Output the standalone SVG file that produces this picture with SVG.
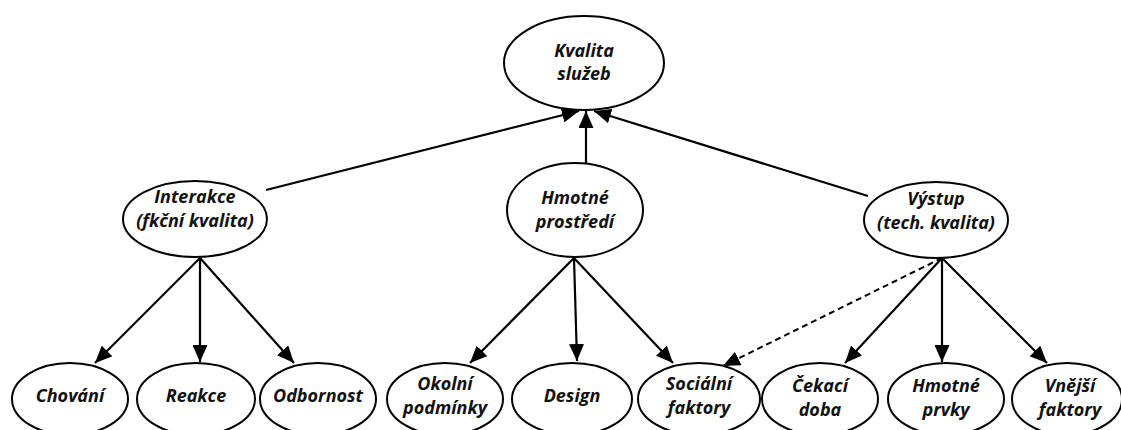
<svg xmlns="http://www.w3.org/2000/svg" width="1121" height="430" viewBox="0 0 1121 430">
  <defs>
    <marker id="arrow" markerUnits="userSpaceOnUse" markerWidth="17" markerHeight="15" refX="17" refY="7.5" orient="auto">
      <path d="M0,0 L17,7.5 L0,15 z" fill="#000"/>
    </marker>
    <style>
      .node ellipse { fill: #fff; stroke: #000; stroke-width: 2; }
      .node text { font-family: "Open Sans", "Liberation Sans", sans-serif; font-weight: bold; font-style: italic; font-size: 18px; fill: #111; text-anchor: middle; }
      .edge { stroke: #000; stroke-width: 2.2; fill: none; marker-end: url(#arrow); }
      .dashed { stroke-width: 2; stroke-dasharray: 6 4; }
    </style>
  </defs>
  <rect width="1121" height="430" fill="#fff"/>

  <g id="connectors">
    <!-- second level to root -->
    <line class="edge" x1="266" y1="190" x2="579" y2="111"/>
    <line class="edge" x1="586" y1="163" x2="586" y2="111"/>
    <line class="edge" x1="868" y1="196" x2="594" y2="111"/>
    <!-- Interakce children -->
    <line class="edge" x1="200" y1="258" x2="95" y2="363"/>
    <line class="edge" x1="200" y1="258" x2="200" y2="362"/>
    <line class="edge" x1="200" y1="258" x2="294" y2="363"/>
    <!-- Hmotné prostředí children -->
    <line class="edge" x1="574" y1="258" x2="470" y2="363"/>
    <line class="edge" x1="574" y1="258" x2="577" y2="361"/>
    <line class="edge" x1="574" y1="258" x2="673" y2="363"/>
    <!-- Výstup children -->
    <line class="edge dashed" x1="942" y1="258" x2="723" y2="366"/>
    <line class="edge" x1="942" y1="258" x2="845" y2="363"/>
    <line class="edge" x1="942" y1="258" x2="942" y2="362"/>
    <line class="edge" x1="942" y1="258" x2="1047" y2="363"/>
  </g>

  <g id="kvalita-sluzeb" class="node">
    <ellipse cx="584" cy="63" rx="80" ry="47"/>
    <text x="584" y="57">Kvalita</text>
    <text x="584" y="80">služeb</text>
  </g>

  <g id="interakce" class="node">
    <ellipse cx="195" cy="219" rx="72" ry="38"/>
    <text x="195" y="203">Interakce</text>
    <text x="195" y="227">(fkční kvalita)</text>
  </g>

  <g id="hmotne-prostredi" class="node">
    <ellipse cx="575" cy="210" rx="68" ry="47"/>
    <text x="575" y="204">Hmotné</text>
    <text x="575" y="228">prostředí</text>
  </g>

  <g id="vystup" class="node">
    <ellipse cx="936" cy="220" rx="72" ry="38"/>
    <text x="936" y="205">Výstup</text>
    <text x="936" y="229">(tech. kvalita)</text>
  </g>

  <g id="chovani" class="node">
    <ellipse cx="70" cy="399" rx="58" ry="36"/>
    <text x="70" y="402">Chování</text>
  </g>

  <g id="reakce" class="node">
    <ellipse cx="196" cy="399" rx="59" ry="36"/>
    <text x="196" y="402">Reakce</text>
  </g>

  <g id="odbornost" class="node">
    <ellipse cx="318" cy="399" rx="58" ry="36"/>
    <text x="318" y="402">Odbornost</text>
  </g>

  <g id="okolni-podminky" class="node">
    <ellipse cx="445" cy="399" rx="58" ry="36"/>
    <text x="445" y="390">Okolní</text>
    <text x="445" y="414">podmínky</text>
  </g>

  <g id="design" class="node">
    <ellipse cx="572" cy="399" rx="60" ry="36"/>
    <text x="572" y="402">Design</text>
  </g>

  <g id="socialni-faktory" class="node">
    <ellipse cx="699" cy="399" rx="61" ry="36"/>
    <text x="699" y="390">Sociální</text>
    <text x="699" y="414">faktory</text>
  </g>

  <g id="cekaci-doba" class="node">
    <ellipse cx="820" cy="399" rx="58" ry="36"/>
    <text x="820" y="392">Čekací</text>
    <text x="820" y="416">doba</text>
  </g>

  <g id="hmotne-prvky" class="node">
    <ellipse cx="946" cy="399" rx="58" ry="36"/>
    <text x="946" y="392">Hmotné</text>
    <text x="946" y="416">prvky</text>
  </g>

  <g id="vnejsi-faktory" class="node">
    <ellipse cx="1067" cy="399" rx="55" ry="36"/>
    <text x="1070" y="392">Vnější</text>
    <text x="1070" y="416">faktory</text>
  </g>
</svg>
